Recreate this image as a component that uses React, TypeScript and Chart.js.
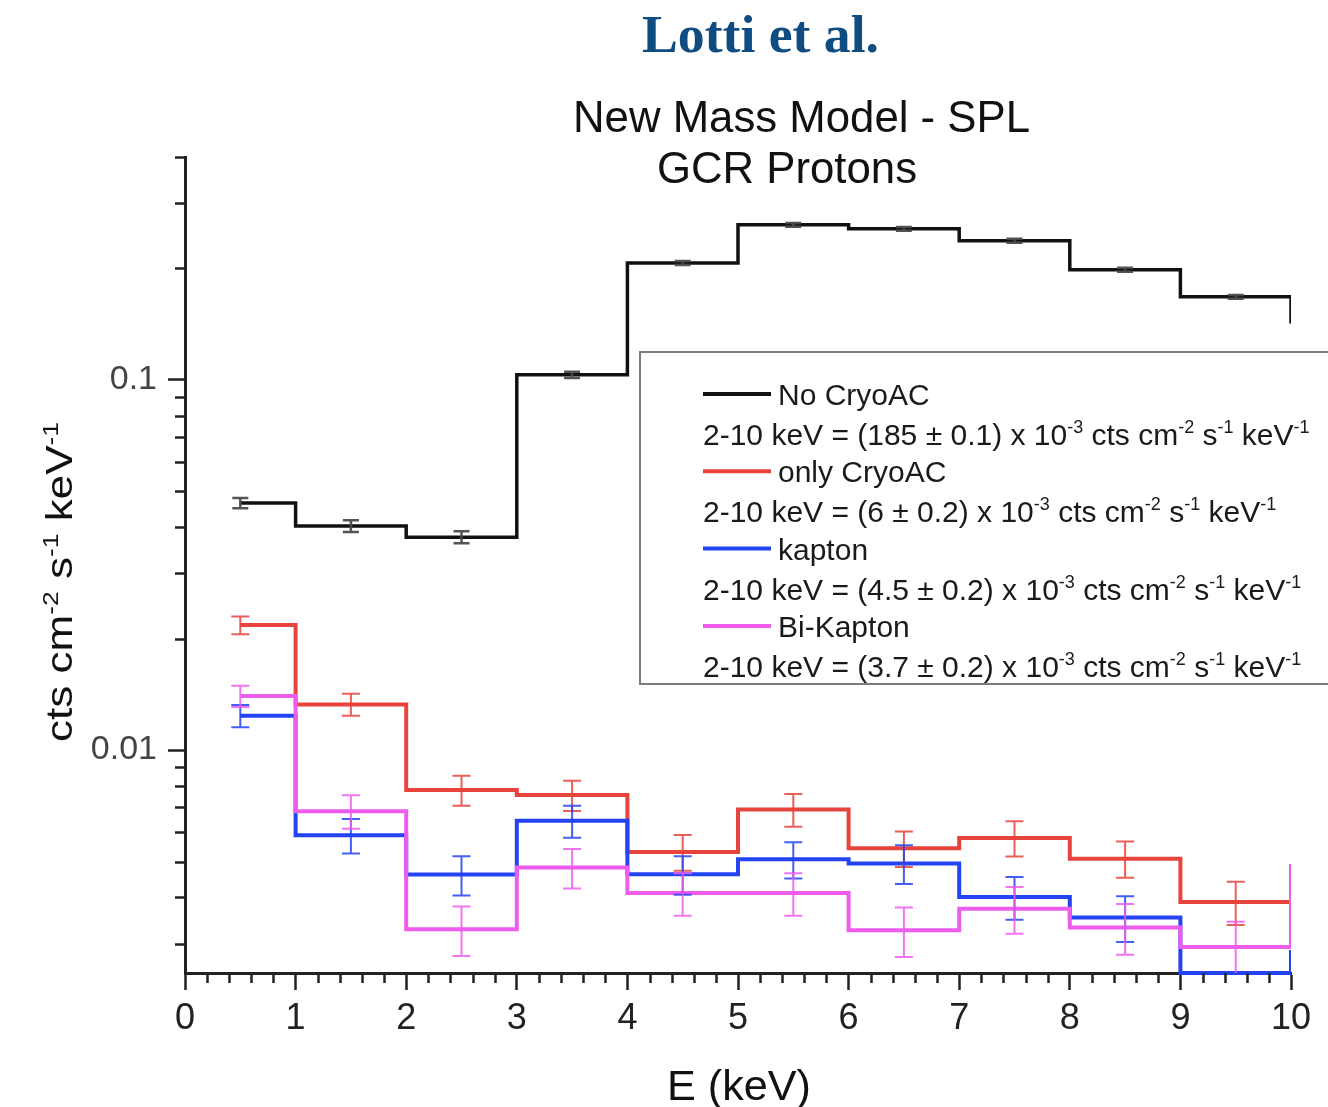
import React, { useEffect, useRef } from "react";
import { Chart, registerables } from "chart.js";

Chart.register(...registerables);

// ---------- data ----------
const binCenters = [0.5, 1.5, 2.5, 3.5, 4.5, 5.5, 6.5, 7.5, 8.5, 9.5, 10.5];

const noCryoAC = [0.0465, 0.0403, 0.0376, 0.1032, 0.207, 0.2624, 0.2559, 0.2375, 0.1983, 0.1676, 0.1435];
const noCryoACErr = [0.0015, 0.0015, 0.0014, 0.002, 0.0026, 0.003, 0.003, 0.003, 0.0025, 0.002];

const onlyCryoAC = [0.02177, 0.01329, 0.0078, 0.00756, 0.00531, 0.00691, 0.00543, 0.00579, 0.00509, 0.00389, 0.00389];
const onlyCryoACErr = [0.0012, 0.0009, 0.00072, 0.00071, 0.00059, 0.0007, 0.0006, 0.00063, 0.00057, 0.00052];

const kapton = [0.01238, 0.00589, 0.00461, 0.00644, 0.00462, 0.00507, 0.00494, 0.00401, 0.00353, 0.0025, 0.00285];
const kaptonErr = [0.00085, 0.00063, 0.00056, 0.00064, 0.00055, 0.00057, 0.00059, 0.00053, 0.0005, 0];

const biKapton = [0.014, 0.00684, 0.00328, 0.00482, 0.00411, 0.00411, 0.00326, 0.00373, 0.00332, 0.00294, 0.00486];
const biKaptonErr = [0.00092, 0.00071, 0.0005, 0.00059, 0.00054, 0.00054, 0.0005, 0.00054, 0.00052, 0.0005];

const seriesNames = ["No CryoAC", "only CryoAC", "kapton", "Bi-Kapton"];
const seriesRates = ["185 ± 0.1", "6 ± 0.2", "4.5 ± 0.2", "3.7 ± 0.2"];

const xTickValues = [0, 1, 2, 3, 4, 5, 6, 7, 8, 9, 10];
const yTickValues = [
  0.003, 0.004, 0.005, 0.006, 0.007, 0.008, 0.009,
  0.01, 0.02, 0.03, 0.04, 0.05, 0.06, 0.07, 0.08, 0.09,
  0.1, 0.2, 0.3, 0.4,
];
const yLabeledTicks = [0.01, 0.1];
const yLabelTexts = ["0.01", "0.1"];
const xMin = 0;
const xMax = 10;
const yMin = 0.0025;
const yMax = 0.4;

const headerText = "Lotti et al.";
const titleLines = ["New Mass Model - SPL", "GCR Protons"];
const xTitle = "E (keV)";

// ---------- styles ----------
const SANS = "'Liberation Sans', Arial, Helvetica, sans-serif";
const SERIF = "'Liberation Serif', 'Times New Roman', serif";
const seriesColors = ["#111111", "#e8433c", "#2443f2", "#ee5cee"];
const errorColors = ["rgba(75,75,75,0.95)", "rgba(232,67,60,0.85)", "rgba(36,67,242,0.85)", "rgba(238,92,238,0.85)"];

type Part = { t: string; sup?: boolean };

function drawRich(
  ctx: CanvasRenderingContext2D,
  parts: Part[],
  x: number,
  y: number,
  size: number,
  family: string,
  color: string,
  align: "left" | "center",
  fitWidth?: number,
  weight = "normal"
) {
  const supSize = size * 0.6;
  ctx.save();
  ctx.textBaseline = "alphabetic";
  ctx.textAlign = "left";
  const widths = parts.map((p) => {
    ctx.font = `${weight} ${p.sup ? supSize : size}px ${family}`;
    return ctx.measureText(p.t).width;
  });
  const total = widths.reduce((a, b) => a + b, 0);
  const sx = fitWidth ? fitWidth / total : 1;
  ctx.translate(x, y);
  ctx.scale(sx, 1);
  let cx = align === "center" ? -total / 2 : 0;
  ctx.fillStyle = color;
  parts.forEach((p, i) => {
    ctx.font = `${weight} ${p.sup ? supSize : size}px ${family}`;
    ctx.fillText(p.t, cx, p.sup ? -size * 0.4 : 0);
    cx += widths[i];
  });
  ctx.restore();
}

const unitParts: Part[] = [
  { t: " cts cm" }, { t: "-2", sup: true }, { t: " s" }, { t: "-1", sup: true }, { t: " keV" }, { t: "-1", sup: true },
];
const yTitleParts: Part[] = [
  { t: "cts cm" }, { t: "-2", sup: true }, { t: " s" }, { t: "-1", sup: true }, { t: " keV" }, { t: "-1", sup: true },
];

const isLabeled = (v: number) => yLabeledTicks.findIndex((t) => Math.abs(v - t) / t < 1e-6);

export default function App() {
  const ref = useRef<HTMLCanvasElement>(null);

  useEffect(() => {
    const canvas = ref.current;
    if (!canvas) return;
    const seriesList = [noCryoAC, onlyCryoAC, kapton, biKapton];
    const errList = [noCryoACErr, onlyCryoACErr, kaptonErr, biKaptonErr];

    const datasets = seriesList.map((vals, k) => ({
      label: seriesNames[k],
      data: binCenters.map((x, i) => ({ x, y: vals[i] })),
      borderColor: seriesColors[k],
      backgroundColor: seriesColors[k],
      borderWidth: k === 0 ? 3.5 : 4,
      pointRadius: 0,
      pointHoverRadius: 0,
      stepped: "middle" as const,
      fill: false,
      order: 4 - k,
      clip: { left: 0, top: 5, right: 0, bottom: 3 },
    }));

    const overlay = {
      id: "overlay",
      afterDatasetsDraw(chart: any) {
        const ctx: CanvasRenderingContext2D = chart.ctx;
        const xs = chart.scales.x;
        const ys = chart.scales.y;
        const area = chart.chartArea;
        ctx.save();
        ctx.beginPath();
        ctx.rect(area.left, area.top, area.right - area.left, area.bottom - area.top);
        ctx.clip();
        seriesList.forEach((vals, k) => {
          const errs = errList[k];
          ctx.strokeStyle = errorColors[k];
          ctx.lineWidth = k === 0 ? 2.5 : 2;
          const cap = k === 0 ? 8 : 9;
          errs.forEach((e, i) => {
            if (!e) return;
            const v = vals[i];
            const x = xs.getPixelForValue(binCenters[i]);
            const yt = ys.getPixelForValue(v + e);
            const yb = ys.getPixelForValue(Math.max(v - e, 1e-6));
            ctx.beginPath();
            ctx.moveTo(x, yt);
            ctx.lineTo(x, yb);
            ctx.moveTo(x - cap, yt);
            ctx.lineTo(x + cap, yt);
            ctx.moveTo(x - cap, yb);
            ctx.lineTo(x + cap, yb);
            ctx.stroke();
          });
        });
        ctx.restore();
      },
      afterDraw(chart: any) {
        const ctx: CanvasRenderingContext2D = chart.ctx;
        const xs = chart.scales.x;
        const ys = chart.scales.y;
        const area = chart.chartArea;
        ctx.save();
        // minor ticks
        ctx.strokeStyle = "#222";
        ctx.lineWidth = 2.5;
        for (let i = 0; i <= (xMax - xMin) * 5; i++) {
          if (i % 5 === 0) continue;
          const x = Math.round(xs.getPixelForValue(xMin + i / 5)) + 0.5;
          ctx.beginPath();
          ctx.moveTo(x, area.bottom);
          ctx.lineTo(x, area.bottom + 10);
          ctx.stroke();
        }
        yTickValues.forEach((v) => {
          if (isLabeled(v) >= 0) return;
          const y = Math.round(ys.getPixelForValue(v)) + 0.5;
          ctx.beginPath();
          ctx.moveTo(area.left - 10, y);
          ctx.lineTo(area.left, y);
          ctx.stroke();
        });

        // legend box
        const bx = 640, by = 352, bw = 720, bh = 332;
        ctx.fillStyle = "#fff";
        ctx.fillRect(bx, by, bw, bh);
        ctx.strokeStyle = "#7c7c7c";
        ctx.lineWidth = 2;
        ctx.strokeRect(bx, by, bw, bh);
        seriesNames.forEach((name, k) => {
          const base = 405 + k * 77.3;
          ctx.strokeStyle = seriesColors[k];
          ctx.lineWidth = 4;
          ctx.beginPath();
          ctx.moveTo(703, base - 11);
          ctx.lineTo(771, base - 11);
          ctx.stroke();
          drawRich(ctx, [{ t: name }], 778, base, 30, SANS, "#1a1a1a", "left");
          drawRich(
            ctx,
            [{ t: `2-10 keV = (${seriesRates[k]}) x 10` }, { t: "-3", sup: true }, ...unitParts],
            703,
            base + 40,
            30,
            SANS,
            "#1a1a1a",
            "left"
          );
        });

        // header + titles
        drawRich(ctx, [{ t: headerText }], 642, 52, 53, SERIF, "#0f4c81", "left", 237, "bold");
        drawRich(ctx, [{ t: titleLines[0] }], 573, 132, 44, SANS, "#111", "left", 457);
        drawRich(ctx, [{ t: titleLines[1] }], 657, 183, 44, SANS, "#111", "left", 260);

        // x title
        drawRich(ctx, [{ t: xTitle }], 667, 1100, 43, SANS, "#111", "left", 144);

        // y title
        ctx.save();
        ctx.translate(72, 742);
        ctx.rotate(-Math.PI / 2);
        drawRich(ctx, yTitleParts, 0, 0, 36, SANS, "#111", "left", 320);
        ctx.restore();

        ctx.restore();
      },
    };

    const chart = new Chart(canvas, {
      type: "line",
      data: { datasets: datasets as any },
      options: {
        responsive: false,
        animation: false,
        devicePixelRatio: 1,
        events: [],
        layout: { padding: { top: 157, right: 37, left: 0, bottom: 0 } },
        plugins: {
          legend: { display: false },
          tooltip: { enabled: false },
          title: { display: false },
        },
        scales: {
          x: {
            type: "linear",
            min: xMin,
            max: xMax,
            bounds: "data",
            afterBuildTicks: (s: any) => {
              s.ticks = xTickValues.map((v) => ({ value: v }));
            },
            afterFit: (s: any) => {
              s.height = 134;
            },
            ticks: {
              font: { family: SANS, size: 36 },
              color: "#222",
              padding: 7,
              maxRotation: 0,
              autoSkip: false,
              callback: (v: any) => String(v),
            },
            grid: {
              display: true,
              drawOnChartArea: false,
              drawTicks: true,
              tickLength: 17,
              tickWidth: 2.5,
              tickColor: "#222",
              color: "#222",
            },
            border: { display: true, color: "#222", width: 3 },
          },
          y: {
            type: "logarithmic",
            min: yMin,
            max: yMax,
            bounds: "data",
            afterBuildTicks: (s: any) => {
              s.ticks = yTickValues.map((v) => ({ value: v }));
            },
            afterFit: (s: any) => {
              s.width = 185;
            },
            ticks: {
              font: { family: SANS, size: 34 },
              color: "#444",
              padding: 11,
              autoSkip: false,
              callback: (v: any) => {
                const idx = isLabeled(Number(v));
                return idx >= 0 ? yLabelTexts[idx] : "";
              },
            },
            grid: {
              display: true,
              drawOnChartArea: false,
              drawTicks: true,
              tickLength: 17,
              tickWidth: 2.5,
              tickColor: (c: any) => (c.tick && isLabeled(c.tick.value) >= 0 ? "#222" : "rgba(0,0,0,0)"),
              color: "#222",
            },
            border: { display: true, color: "#222", width: 3 },
          },
        },
      } as any,
      plugins: [overlay],
    });

    return () => chart.destroy();
  }, []);

  return (
    <div style={{ position: "fixed", left: 0, top: 0, width: 1328, height: 1107, background: "#fff" }}>
      <canvas ref={ref} width={1328} height={1107} style={{ display: "block" }} />
    </div>
  );
}
